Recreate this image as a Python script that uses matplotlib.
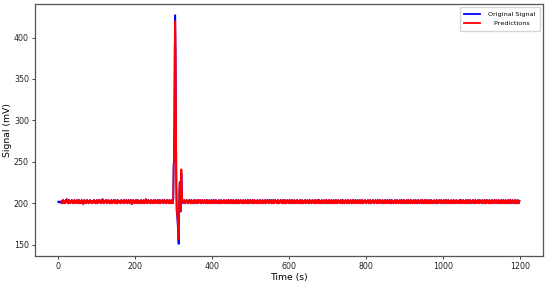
import numpy as np
import matplotlib.pyplot as plt

# baseline signal, one digit per second: value = 199 + digit (mV)
base_digits = """
3423242531 4352341324 5364213452 3124352413 2452314235 2431523413 2543204352 3412354231
2435324132 4325431423 5213425342 3152462514 3243523142 5342132453 1423542315 3241352432
4312534243 1524323541 3245231435 2403254321 4352431524 3142352413 4253142362 4132543214
3524132453 1425342315 2432514324 3541325423 1435243125 4321453214 3524135243 2145324153
2341532453 1423543214 3524315243 2145324135 2431524325 4132453124 3524132541 3245231435
3214352431 5243214352 4132543124 3524132453 1425341325 4231452341 3254213452 3142534213
4523143524 1325431245 3241352431 5234213452 4132543214 3524132453 1243524315 2432514325
3142534231 4523142354 2314523415 3241325432 1453241352 4312543214 3523412453 2143524132
2453142352 4132543214 3524312453 2143524153 2413254321 4352413524 3125432143 5241325431
4352413254 3214352431 5243124532 4135243124 5321435241 3254312453 2143524132 5431243524
3124352413 2543124352 4132453214 3524135243 2145324132 5431245324 1352431524 3214352413
2543214352 4135243125 4321435241 3524312543 2143524135 2431254321 4352413524 3125432145
3241352431 5243214352 4132543124 3524135243 2145324153 2431524321 4352413254 3124352413
4325413524 3125432143 5241352431 2543214352 4132543124 3524135243 2145324135 2413254321
3524132543 1243524135 2431254321 4352413524 3125432143 5241352431 2543214352 4132543124
"""
start_vals = [202, 202, 201, 202, 202, 201, 202, 202]  # first seconds of original signal

spike_t = list(range(299, 325))
orig_spike = [205, 248, 250, 300, 390, 427, 380, 290, 220, 190, 186, 180, 170,
              158, 151, 185, 215, 225, 205, 190, 215, 236, 222, 206, 200, 203]
pred_spike = [206, 245, 252, 310, 395, 420, 385, 295, 222, 192, 187, 184, 175,
              162, 157, 188, 218, 226, 208, 191, 218, 241, 225, 207, 201, 202]
pred_start = 8

digits = "".join(base_digits.split())
base = np.array([199 + int(c) for c in digits], dtype=float)
t = np.arange(len(base))

orig = base.copy()
orig[:len(start_vals)] = start_vals
orig[spike_t] = orig_spike
pred = base.copy()
pred[spike_t] = pred_spike

fig = plt.figure(figsize=(5.5, 2.85), dpi=100)
ax = fig.add_axes([0.064, 0.102, 0.923, 0.884])
ax.plot(t, orig, color="blue", lw=1.3, label="Original Signal")
ax.plot(t[pred_start:], pred[pred_start:], color="red", lw=1.3, label="   Predictions")
ax.set_xlim(-60, 1260)
ax.set_ylim(136.5, 440.5)
ax.set_xticks([0, 200, 400, 600, 800, 1000, 1200])
ax.set_yticks([150, 200, 250, 300, 350, 400])
ax.tick_params(labelsize=5.7, length=2.5, width=0.6, pad=2, colors="#222222")
for s in ax.spines.values():
    s.set_linewidth(0.9)
    s.set_color("#555555")
ax.set_xlabel("Time (s)", fontsize=6.7, labelpad=1.5)
ax.set_ylabel("Signal (mV)", fontsize=6.7, labelpad=1.5)
ax.legend(loc="upper right", fontsize=4.6, handlelength=2.5, handletextpad=1.2,
          labelspacing=0.6, borderpad=0.7)
fig.savefig("out.png", dpi=100)
